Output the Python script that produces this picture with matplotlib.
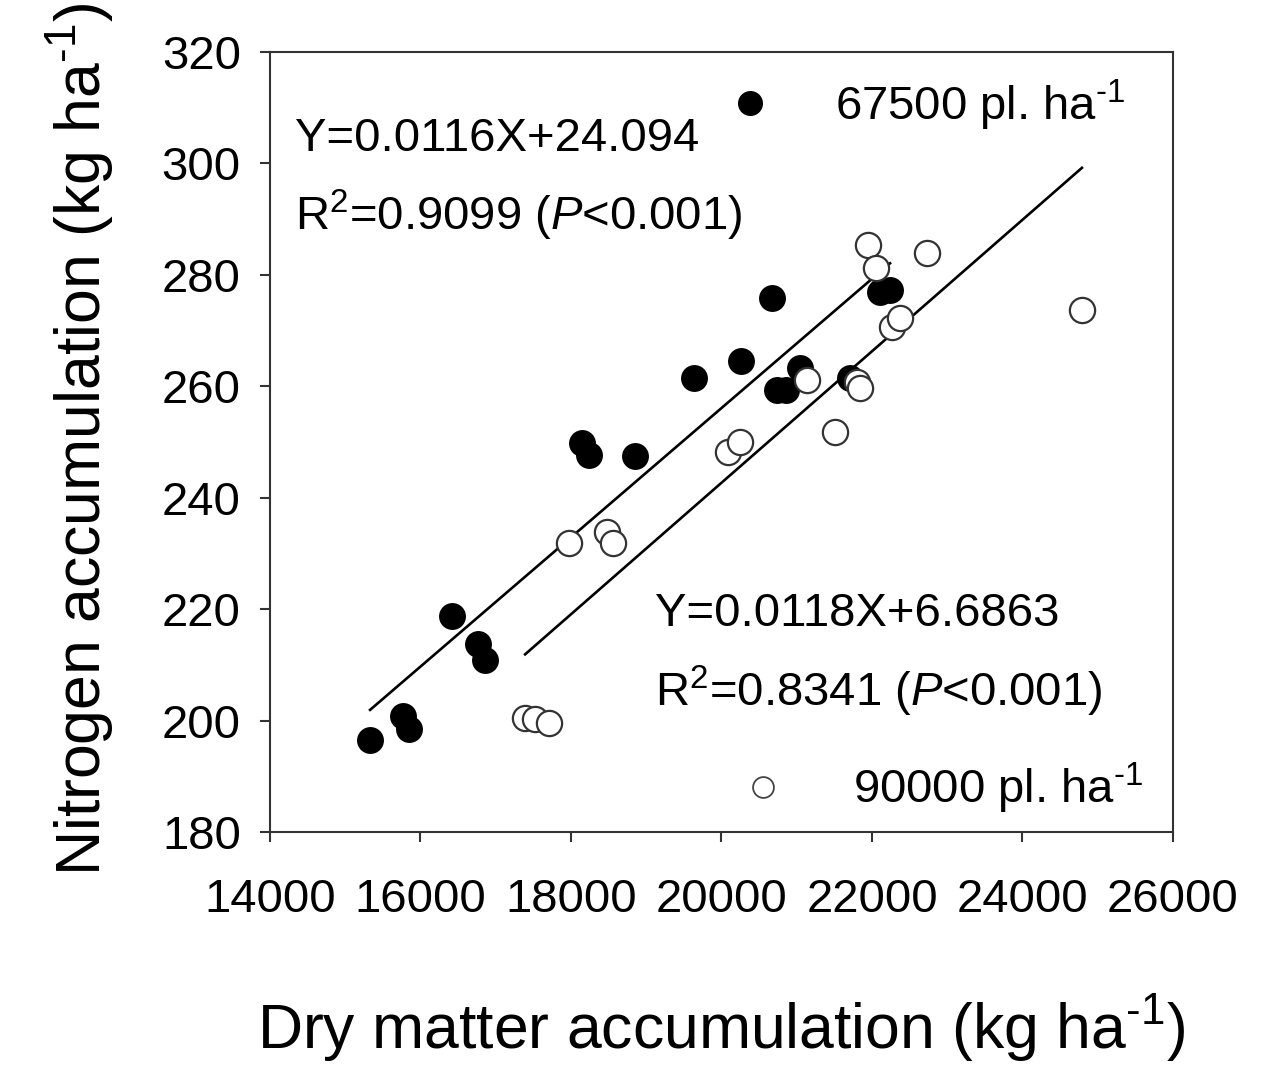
import numpy as np
import matplotlib
matplotlib.use("Agg")
import matplotlib.pyplot as plt
from matplotlib.lines import Line2D

plt.rcParams["font.family"] = ["Liberation Sans", "DejaVu Sans"]
plt.rcParams["mathtext.fontset"] = "custom"
plt.rcParams["mathtext.rm"] = "Liberation Sans"
plt.rcParams["mathtext.it"] = "Liberation Sans:italic"

# 67500 pl. ha-1 (filled)
dm_67500 = [15330, 15770, 15850, 16420, 16760, 16860, 18150, 18240, 18850,
            19640, 20260, 20670, 20740, 20860, 21040, 21710, 22110, 22240]
n_67500 = [196.5, 200.8, 198.5, 218.8, 213.7, 210.9, 249.8, 247.7, 247.5,
           261.5, 264.5, 275.9, 259.3, 259.3, 263.2, 261.5, 276.9, 277.3]

# 90000 pl. ha-1 (open)
dm_90000 = [17390, 17520, 17710, 17970, 18480, 18560, 20090, 20250, 21140,
            21510, 21800, 21840, 21950, 22050, 22270, 22370, 22730, 24790]
n_90000 = [200.4, 200.3, 199.6, 231.8, 233.8, 231.9, 248.2, 250.0, 261.1,
           251.8, 260.8, 259.7, 285.4, 281.2, 270.6, 272.3, 283.9, 273.7]

fit_67500 = (0.0116, 24.094)
fit_90000 = (0.0118, 6.6863)

xticks = [14000, 16000, 18000, 20000, 22000, 24000, 26000]
yticks = [180, 200, 220, 240, 260, 280, 300, 320]

sup = r"$^{\text{-1}}$"

fig = plt.figure(figsize=(12.67, 10.79), dpi=100)
ax = fig.add_axes([0.2131, 0.2289, 0.7127, 0.7229])

ax.scatter(dm_67500, n_67500, s=330, facecolor="black", edgecolor="black",
           linewidth=1.2, zorder=3)
ax.scatter(dm_90000, n_90000, s=330, facecolor="white", edgecolor="#333333",
           linewidth=1.6, zorder=3)

for xs, (a, b) in [(dm_67500, fit_67500), (dm_90000, fit_90000)]:
    xl = np.array([min(xs), max(xs)])
    ax.plot(xl, a * xl + b, color="black", lw=1.9, zorder=2)

ax.set_xlim(14000, 26000)
ax.set_ylim(180, 320)
ax.set_xticks(xticks)
ax.set_yticks(yticks)
ax.tick_params(axis="both", direction="out", length=7, width=1.5,
               colors="#333333", labelcolor="black", labelsize=34)
ax.tick_params(axis="x", pad=26)
ax.tick_params(axis="y", pad=14)
for sp in ax.spines.values():
    sp.set_linewidth(1.5)
    sp.set_color("#333333")

ax.set_xlabel("Dry matter accumulation (kg ha" + sup + ")", fontsize=45)
ax.set_ylabel("Nitrogen accumulation (kg ha" + sup + ")", fontsize=45)
ax.xaxis.set_label_coords(0.50, -0.205)
ax.yaxis.set_label_coords(-0.170, 0.503)

ax.text(14330, 302.2, "Y=0.0116X+24.094", fontsize=34, va="baseline")
ax.text(14330, 288.0, "R$^2$=0.9099 ($\\mathit{P}$<0.001)", fontsize=34,
        va="baseline")
ax.text(19120, 217.0, "Y=0.0118X+6.6863", fontsize=34, va="baseline")
ax.text(19120, 202.6, "R$^2$=0.8341 ($\\mathit{P}$<0.001)", fontsize=34,
        va="baseline")

h1 = Line2D([], [], ls="none", marker="o", markersize=17,
            markerfacecolor="black", markeredgecolor="black")
h2 = Line2D([], [], ls="none", marker="o", markersize=15,
            markerfacecolor="white", markeredgecolor="#444444",
            markeredgewidth=1.3)
leg1 = ax.legend([h1], ["67500 pl. ha" + sup], loc="center left",
                 bbox_to_anchor=(0.505, 0.932), frameon=False, fontsize=34,
                 handlelength=1.0, handletextpad=1.3, borderpad=0,
                 borderaxespad=0)
ax.add_artist(leg1)
ax.legend([h2], ["90000 pl. ha" + sup], loc="center left",
          bbox_to_anchor=(0.520, 0.056), frameon=False, fontsize=34,
          handlelength=1.0, handletextpad=1.4, borderpad=0, borderaxespad=0)

fig.savefig("out.png", dpi=100)
